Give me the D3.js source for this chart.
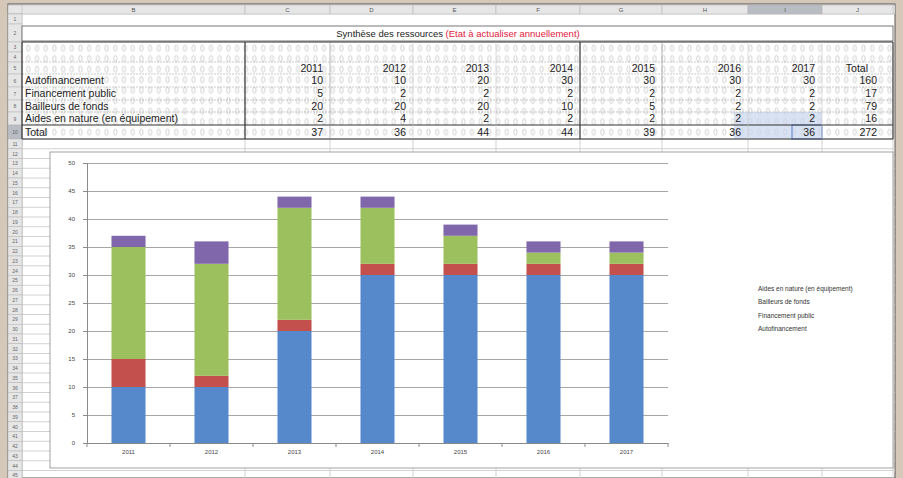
<!DOCTYPE html>
<html>
<head>
<meta charset="utf-8">
<script src="https://cdn.jsdelivr.net/npm/d3@7"></script>
<style>
  body { margin: 0; background: #d5c8b8; }
  svg { display: block; font-family: "Liberation Sans", Arial, sans-serif; }
</style>
</head>
<body>
<svg id="sheet" width="903" height="478"></svg>
<script>
'use strict';

var years = ['2011', '2012', '2013', '2014', '2015', '2016', '2017'];
var seriesNames = ['Autofinancement', 'Financement public', 'Bailleurs de fonds', 'Aides en nature (en équipement)'];
var autofinancement = [10, 10, 20, 30, 30, 30, 30];
var financementPublic = [5, 2, 2, 2, 2, 2, 2];
var bailleursDeFonds = [20, 20, 20, 10, 5, 2, 2];
var aidesEnNature = [2, 4, 2, 2, 2, 2, 2];
var yTicks = [0, 5, 10, 15, 20, 25, 30, 35, 40, 45, 50];
var colors = ['#5589cc', '#c4504e', '#9dc05e', '#8066aa'];
var titleText = 'Synthèse des ressources ';
var titleNote = '(Etat à actualiser annuellement)';
var columnLetters = ['B', 'C', 'D', 'E', 'F', 'G', 'H', 'I', 'J'];

var svg = d3.select('#sheet');

// sheet layout
var colEdges = [22, 245, 330, 413, 496, 580, 662, 748, 822, 893];
var rowEdges = [14, 24, 42, 52, 62, 74, 87, 100, 112, 125, 139];

var defs = svg.append('defs');
var pat = defs.append('pattern')
  .attr('id', 'dots')
  .attr('patternUnits', 'userSpaceOnUse')
  .attr('width', 8.7)
  .attr('height', 10.5)
  .attr('x', 24)
  .attr('y', 43);
pat.append('ellipse')
  .attr('cx', 4.3).attr('cy', 5.2)
  .attr('rx', 1.6).attr('ry', 3.2)
  .attr('fill', 'none')
  .attr('stroke', '#c4c4c4')
  .attr('stroke-width', 0.8);

// window
svg.append('rect')
  .attr('x', 8).attr('y', 4)
  .attr('width', 887).attr('height', 474)
  .attr('fill', '#fff')
  .attr('stroke', '#555');

// lower rows of the sheet
var lowerRows = d3.range(139, 478, 9.75);
svg.append('g').selectAll('line')
  .data(lowerRows)
  .enter().append('line')
  .attr('x1', 8).attr('x2', 895)
  .attr('y1', function(d) { return d; })
  .attr('y2', function(d) { return d; })
  .attr('stroke', '#d2d2d2');
svg.append('g').selectAll('line')
  .data(colEdges)
  .enter().append('line')
  .attr('x1', function(d) { return d; })
  .attr('x2', function(d) { return d; })
  .attr('y1', 139).attr('y2', 478)
  .attr('stroke', '#d2d2d2');

// column header strip
svg.append('rect')
  .attr('x', 8).attr('y', 5)
  .attr('width', 887).attr('height', 9)
  .attr('fill', '#e6e6e6')
  .attr('stroke', '#aaa')
  .attr('stroke-width', 0.5);
var colHead = svg.append('g').selectAll('g')
  .data(columnLetters)
  .enter().append('g');
colHead.append('rect')
  .attr('x', function(d, i) { return colEdges[i]; })
  .attr('y', 5)
  .attr('width', function(d, i) { return colEdges[i + 1] - colEdges[i]; })
  .attr('height', 9)
  .attr('fill', function(d) { return d === 'I' ? '#b9bcc2' : '#e6e6e6'; })
  .attr('stroke', '#b0b0b0')
  .attr('stroke-width', 0.5);
colHead.append('text')
  .attr('x', function(d, i) { return (colEdges[i] + colEdges[i + 1]) / 2; })
  .attr('y', 12)
  .attr('text-anchor', 'middle')
  .style('font-size', '6px')
  .style('fill', '#555')
  .text(function(d) { return d; });

// row header strip
svg.append('rect')
  .attr('x', 8).attr('y', 14)
  .attr('width', 14).attr('height', 464)
  .attr('fill', '#e6e6e6')
  .attr('stroke', '#aaa')
  .attr('stroke-width', 0.5);
var allRows = rowEdges.slice(0, -1).map(function(d, i) { return [d, rowEdges[i + 1]]; })
  .concat(lowerRows.map(function(d) { return [d, d + 9.75]; }));
var rowHead = svg.append('g').selectAll('g')
  .data(allRows)
  .enter().append('g');
rowHead.append('rect')
  .attr('x', 8)
  .attr('y', function(d) { return d[0]; })
  .attr('width', 14)
  .attr('height', function(d) { return d[1] - d[0]; })
  .attr('fill', function(d, i) { return i === 9 ? '#b9bcc2' : '#e6e6e6'; })
  .attr('stroke', '#b5b5b5')
  .attr('stroke-width', 0.5);
rowHead.append('text')
  .attr('x', 15)
  .attr('y', function(d) { return (d[0] + d[1]) / 2 + 2; })
  .attr('text-anchor', 'middle')
  .style('font-size', '5px')
  .style('fill', '#666')
  .text(function(d, i) { return i + 1; });

// title row
svg.append('rect')
  .attr('x', 22).attr('y', 26)
  .attr('width', 871).attr('height', 15)
  .attr('fill', '#fff')
  .attr('stroke', '#555')
  .attr('stroke-width', 0.8);
var title = svg.append('text')
  .attr('x', 458).attr('y', 37)
  .attr('text-anchor', 'middle')
  .style('font-size', '9.5px');
title.append('tspan').style('fill', '#222').text(titleText);
title.append('tspan').style('fill', '#e0203c').text(titleNote);

// table
var tableRows = [autofinancement, financementPublic, bailleursDeFonds, aidesEnNature];
var totals = years.map(function(y, i) {
  return d3.sum(tableRows, function(r) { return r[i]; });
});

svg.append('rect')
  .attr('x', 22).attr('y', 42)
  .attr('width', 871).attr('height', 97)
  .attr('fill', 'url(#dots)');

// selected cells
svg.append('rect')
  .attr('x', colEdges[7] - 14).attr('y', rowEdges[8])
  .attr('width', colEdges[8] - colEdges[7] + 14).attr('height', rowEdges[10] - rowEdges[8])
  .attr('fill', '#c9d5ee')
  .attr('opacity', 0.7);
svg.append('rect')
  .attr('x', colEdges[7] + 44).attr('y', rowEdges[9])
  .attr('width', colEdges[8] - colEdges[7] - 44).attr('height', rowEdges[10] - rowEdges[9])
  .attr('fill', 'none')
  .attr('stroke', '#5b7fc4')
  .attr('stroke-width', 1);

svg.append('g').selectAll('line')
  .data(rowEdges.slice(4))
  .enter().append('line')
  .attr('x1', 22).attr('x2', 893)
  .attr('y1', function(d) { return d; })
  .attr('y2', function(d) { return d; })
  .attr('stroke', function(d) { return d === 125 || d === 139 ? '#333' : '#aaa'; })
  .attr('stroke-width', function(d) { return d === 125 || d === 139 ? 1.2 : 0.6; })
  .attr('stroke-dasharray', function(d) { return d === 125 || d === 139 ? null : '2,1'; });
svg.append('line')
  .attr('x1', 22).attr('x2', 893)
  .attr('y1', 42).attr('y2', 42)
  .attr('stroke', '#333').attr('stroke-width', 1.2);

svg.append('g').selectAll('line')
  .data(colEdges)
  .enter().append('line')
  .attr('x1', function(d) { return d; })
  .attr('x2', function(d) { return d; })
  .attr('y1', 42).attr('y2', 139)
  .attr('stroke', function(d, i) { return [0, 1, 5, 9].indexOf(i) >= 0 ? '#333' : (i === 2 || i === 6 ? '#888' : '#c8c8c8'); })
  .attr('stroke-width', function(d, i) { return [0, 1, 5, 9].indexOf(i) >= 0 ? 1.2 : 0.6; });

var labels = seriesNames.concat(['Total']);
svg.append('g').selectAll('text')
  .data(labels)
  .enter().append('text')
  .attr('x', 25)
  .attr('y', function(d, i) { return (rowEdges[i + 5] + rowEdges[i + 6]) / 2 + 3.5; })
  .style('font-size', '10.5px')
  .style('fill', '#222')
  .text(function(d) { return d; });

var headers = years.concat(['Total']);
var valueRows = tableRows.map(function(r) { return r.concat([d3.sum(r)]); })
  .concat([totals.concat([d3.sum(totals)])]);

function cellX(i) {
  return i === 7 ? colEdges[9] - 16 : colEdges[i + 2] - 7;
}

svg.append('g').selectAll('text')
  .data(headers)
  .enter().append('text')
  .attr('x', function(d, i) { return i === 7 ? colEdges[9] - 25 : cellX(i); })
  .attr('y', (rowEdges[4] + rowEdges[5]) / 2 + 3.5)
  .attr('text-anchor', 'end')
  .style('font-size', '10.5px')
  .style('fill', '#222')
  .text(function(d) { return d; });

valueRows.forEach(function(row, r) {
  svg.append('g').selectAll('text')
    .data(row)
    .enter().append('text')
    .attr('x', function(d, i) { return cellX(i); })
    .attr('y', (rowEdges[r + 5] + rowEdges[r + 6]) / 2 + 3.5)
    .attr('text-anchor', 'end')
    .style('font-size', '10.5px')
    .style('fill', '#222')
    .text(function(d) { return d; });
});

// chart object
svg.append('rect')
  .attr('x', 50).attr('y', 152)
  .attr('width', 843).attr('height', 316)
  .attr('fill', '#fff')
  .attr('stroke', '#8c8c8c')
  .attr('stroke-width', 0.8);

var x = d3.scaleBand()
  .domain(years)
  .range([87, 668])
  .paddingInner(0.59)
  .paddingOuter(0.295);

var y = d3.scaleLinear()
  .domain([0, 50])
  .range([443, 163]);

var plot = svg.append('g');

plot.append('g')
  .attr('transform', 'translate(87,0)')
  .call(d3.axisLeft(y).tickValues(yTicks).tickSize(-581).tickFormat(''))
  .call(function(g) {
    g.select('.domain').remove();
    g.selectAll('line').attr('stroke', '#8f8f8f').attr('stroke-width', 0.8);
  });

var stackData = years.map(function(yr, i) {
  var o = { year: yr };
  seriesNames.forEach(function(s, k) { o[s] = tableRows[k][i]; });
  return o;
});
var stack = d3.stack().keys(seriesNames)(stackData);

plot.selectAll('g.series')
  .data(stack)
  .enter().append('g')
  .attr('class', 'series')
  .attr('fill', function(d, i) { return colors[i]; })
  .selectAll('rect')
  .data(function(d) { return d; })
  .enter().append('rect')
  .attr('x', function(d) { return x(d.data.year); })
  .attr('y', function(d) { return y(d[1]); })
  .attr('width', x.bandwidth())
  .attr('height', function(d) { return y(d[0]) - y(d[1]); });

plot.append('g')
  .attr('transform', 'translate(87,0)')
  .call(d3.axisLeft(y).tickValues(yTicks).tickSize(4).tickPadding(8))
  .call(function(g) {
    g.select('.domain').attr('stroke', '#8a8a8a');
    g.selectAll('line').attr('stroke', '#8a8a8a');
    g.selectAll('text').style('font-size', '6px').style('fill', '#444')
      .style('font-family', '"Liberation Sans", Arial, sans-serif');
  });

plot.append('g')
  .attr('transform', 'translate(0,443)')
  .call(d3.axisBottom(x).tickSize(0).tickPadding(7))
  .call(function(g) {
    g.select('.domain').attr('stroke', '#8a8a8a');
    g.selectAll('text').style('font-size', '6px').style('fill', '#444')
      .style('font-family', '"Liberation Sans", Arial, sans-serif');
  });

// category separators on the x axis
plot.append('g').selectAll('line')
  .data(d3.range(years.length + 1))
  .enter().append('line')
  .attr('x1', function(i) { return 87 + i * x.step(); })
  .attr('x2', function(i) { return 87 + i * x.step(); })
  .attr('y1', 443).attr('y2', 447)
  .attr('stroke', '#8a8a8a');

// legend (series in reverse order, as excel draws it)
var legend = svg.append('g')
  .attr('transform', 'translate(758,289)');
legend.selectAll('text')
  .data(seriesNames.slice().reverse())
  .enter().append('text')
  .attr('y', function(d, i) { return i * 13.3 + 2; })
  .style('font-size', '6.5px')
  .style('fill', '#333')
  .text(function(d) { return d; });
</script>
</body>
</html>
